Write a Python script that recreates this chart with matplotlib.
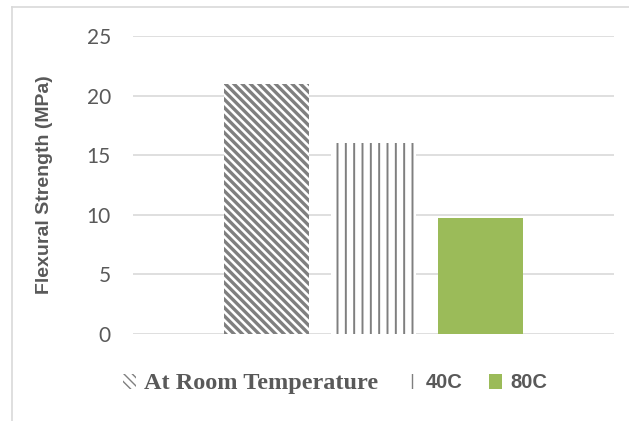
import numpy as np
import matplotlib
matplotlib.use("Agg")
import matplotlib.pyplot as plt
from matplotlib.lines import Line2D

# flexural strength of the samples at each exposure temperature
conditions = ["At Room Temperature", "40C", "80C"]
strength = [21.0, 16.0, 9.7]
yticks = [0, 5, 10, 15, 20, 25]

hatches = ["\\\\\\\\", "||", None]
facecolors = ["white", "white", "#9bbb59"]
edgecolors = ["#7f7f7f", "#7f7f7f", "#9bbb59"]
hatch_lw = [2.4, 1.4, 1.0]
txt = "#595959"
grid = "#d9d9d9"

fig = plt.figure(figsize=(6.29, 4.21), dpi=100)
ax = fig.add_axes([133 / 629, 1 - 334 / 421, 481 / 629, 298 / 421])

pos = np.arange(len(conditions)) - 1
bars = []
for i in range(len(conditions)):
    b = ax.bar(pos[i], strength[i], width=0.8, color=facecolors[i],
               edgecolor=edgecolors[i], hatch=hatches[i], linewidth=0,
               label=conditions[i], zorder=2)
    if hasattr(b[0], "set_hatch_linewidth"):
        b[0].set_hatch_linewidth(hatch_lw[i])
    bars.append(b)

ax.set_xlim(-2.25, 2.25)
ax.set_ylim(0, 25)
ax.set_yticks(yticks)
ax.set_xticks([])
ax.yaxis.grid(True, color=grid, linewidth=1.2, zorder=0)
ax.set_axisbelow(True)
for s in ax.spines.values():
    s.set_visible(False)
ax.tick_params(axis="y", length=0, pad=16, labelsize=15, labelcolor=txt)
for t in ax.get_yticklabels():
    t.set_fontfamily("Lato")

ax.set_ylabel("Flexural Strength (MPa)", fontsize=14, fontweight="bold",
              color=txt, family="Liberation Sans", labelpad=24)

leg = fig.legend(handles=[b[0] for b in bars], labels=conditions,
                 loc="center", bbox_to_anchor=(335 / 629, 1 - 383 / 421),
                 ncol=3, frameon=False, fontsize=14.5, handlelength=0.65,
                 handleheight=0.7, handletextpad=0.4, columnspacing=1.3)
for i, t in enumerate(leg.get_texts()):
    t.set_color(txt)
    t.set_fontweight("bold")
    if i == 0:
        t.set_fontfamily("Liberation Serif")
        t.set_fontsize(17.5)
    else:
        t.set_fontfamily("Liberation Sans")

# chart frame
fig.add_artist(Line2D([12 / 629, 1], [1 - 7 / 421] * 2, color=grid, lw=1.2,
                      transform=fig.transFigure))
fig.add_artist(Line2D([12 / 629] * 2, [0, 1 - 7 / 421], color=grid, lw=1.2,
                      transform=fig.transFigure))

fig.savefig("out.png", dpi=100)
